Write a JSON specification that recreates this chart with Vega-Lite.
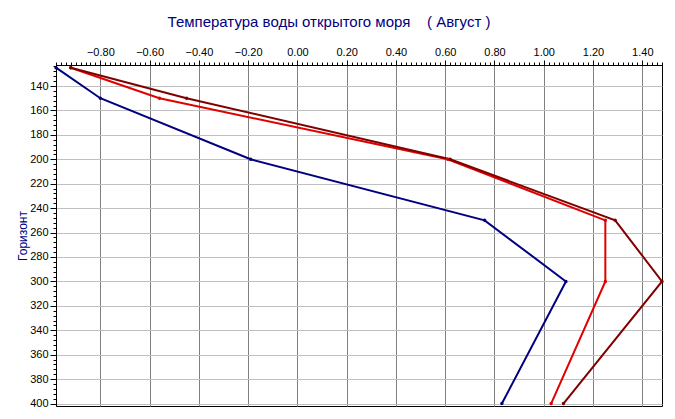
{
  "$schema": "https://vega.github.io/schema/vega-lite/v6.json",
  "autosize": "none",
  "width": 606,
  "height": 341,
  "padding": {"left": 56, "top": 65, "right": 13, "bottom": 13},
  "background": "white",
  "config": {
    "font": "Liberation Sans",
    "view": {"stroke": "#000000", "strokeWidth": 1},
    "axis": {"labelFont": "Liberation Sans", "titleFont": "Liberation Sans"}
  },
  "title": {
    "text": "Температура воды открытого моря\u00a0\u00a0\u00a0\u00a0(\u00a0Август\u00a0)",
    "font": "Liberation Sans",
    "fontSize": 15,
    "fontWeight": "normal",
    "color": "#000080",
    "anchor": "middle",
    "dx": -30,
    "offset": 16
  },
  "data": {
    "values": [
      {"series": "A", "depth": 125, "temp": -0.98},
      {"series": "A", "depth": 150, "temp": -0.80},
      {"series": "A", "depth": 200, "temp": -0.19},
      {"series": "A", "depth": 250, "temp": 0.76},
      {"series": "A", "depth": 300, "temp": 1.09},
      {"series": "A", "depth": 400, "temp": 0.83},
      {"series": "B", "depth": 125, "temp": -0.92},
      {"series": "B", "depth": 150, "temp": -0.56},
      {"series": "B", "depth": 200, "temp": 0.61},
      {"series": "B", "depth": 250, "temp": 1.25},
      {"series": "B", "depth": 300, "temp": 1.25},
      {"series": "B", "depth": 400, "temp": 1.03},
      {"series": "C", "depth": 125, "temp": -0.92},
      {"series": "C", "depth": 150, "temp": -0.45},
      {"series": "C", "depth": 200, "temp": 0.62},
      {"series": "C", "depth": 250, "temp": 1.29},
      {"series": "C", "depth": 300, "temp": 1.48},
      {"series": "C", "depth": 400, "temp": 1.08}
    ]
  },
  "layer": [
    {
      "mark": {"type": "line", "strokeWidth": 2, "point": {"filled": true, "size": 12}},
      "encoding": {
        "x": {
          "field": "temp", "type": "quantitative",
          "scale": {"domain": [-0.98, 1.48], "nice": false, "zero": false},
          "axis": {
            "orient": "top", "title": null, "format": ".2f",
            "values": [-0.8, -0.6, -0.4, -0.2, 0, 0.2, 0.4, 0.6, 0.8, 1.0, 1.2, 1.4],
            "grid": true, "gridColor": "#808080", "gridOpacity": 1, "gridWidth": 1,
            "domain": true, "domainColor": "#000000",
            "ticks": true, "tickColor": "#000000", "tickSize": 5,
            "labelColor": "#000000", "labelFontSize": 11, "labelPadding": 3
          }
        },
        "y": {
          "field": "depth", "type": "quantitative",
          "scale": {"domain": [122.8, 402], "nice": false, "zero": false, "reverse": true},
          "axis": {
            "orient": "left", "title": "Горизонт", "titleColor": "#000080",
            "titleFontSize": 12, "titleFontWeight": "normal", "titlePadding": 0,
            "values": [140, 160, 180, 200, 220, 240, 260, 280, 300, 320, 340, 360, 380, 400],
            "grid": true, "gridColor": "#c0c0c0", "gridOpacity": 1, "gridWidth": 1,
            "domain": true, "domainColor": "#000000",
            "ticks": true, "tickColor": "#000000", "tickSize": 6,
            "labelColor": "#000000", "labelFontSize": 11, "labelPadding": 2
          }
        },
        "color": {
          "field": "series", "type": "nominal",
          "scale": {"domain": ["A", "B", "C"], "range": ["#000080", "#e00000", "#800000"]},
          "legend": null
        },
        "order": {"field": "depth", "type": "quantitative"}
      }
    },
    {
      "mark": {"type": "point", "opacity": 0},
      "encoding": {
        "x": {
          "field": "temp", "type": "quantitative",
          "scale": {"domain": [-0.98, 1.48], "nice": false, "zero": false},
          "axis": {
            "orient": "top", "title": null, "labels": false, "grid": false,
            "domain": false, "ticks": true, "tickColor": "#000000", "tickSize": 3,
            "tickCount": 124
          }
        },
        "y": {
          "field": "depth", "type": "quantitative",
          "scale": {"domain": [122.8, 402], "nice": false, "zero": false, "reverse": true},
          "axis": {
            "orient": "left", "title": null, "labels": false, "grid": false,
            "domain": false, "ticks": true, "tickColor": "#000000", "tickSize": 3,
            "values": [124, 128, 132, 136, 140, 144, 148, 152, 156, 160, 164, 168, 172, 176, 180, 184, 188, 192, 196, 200, 204, 208, 212, 216, 220, 224, 228, 232, 236, 240, 244, 248, 252, 256, 260, 264, 268, 272, 276, 280, 284, 288, 292, 296, 300, 304, 308, 312, 316, 320, 324, 328, 332, 336, 340, 344, 348, 352, 356, 360, 364, 368, 372, 376, 380, 384, 388, 392, 396, 400]
          }
        }
      }
    }
  ],
  "resolve": {"scale": {"x": "independent", "y": "independent"}}
}
